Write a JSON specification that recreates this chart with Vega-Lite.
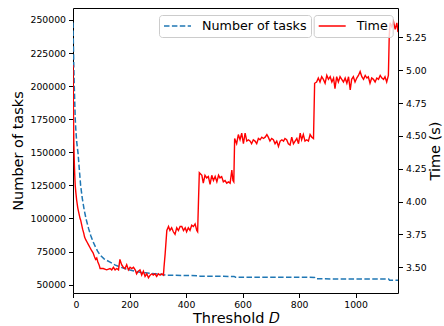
{
  "$schema": "https://vega.github.io/schema/vega-lite/v6.json",
  "width": 325,
  "height": 285,
  "autosize": {"type": "none"},
  "padding": {"left": 73, "top": 8, "right": 46, "bottom": 33},
  "config": {
    "font": "DejaVu Sans",
    "view": {"stroke": "black", "strokeWidth": 1},
    "axis": {"grid": false, "domain": false, "labelFontSize": 9.3, "titleFontSize": 14.5, "titleFontWeight": "normal", "labelColor": "black", "titleColor": "black", "tickColor": "black", "tickSize": 4.5, "tickWidth": 1, "labelPadding": 3, "labelFont": "DejaVu Sans", "titleFont": "DejaVu Sans"}
  },
  "datasets": {
    "tasks": [
      {"D": 0, "tasks": 248000}, {"D": 1, "tasks": 236000}, {"D": 2, "tasks": 224000}, {"D": 3, "tasks": 213000},
      {"D": 4, "tasks": 204000}, {"D": 5, "tasks": 196000}, {"D": 6, "tasks": 189000}, {"D": 8, "tasks": 175000},
      {"D": 10, "tasks": 167000}, {"D": 13, "tasks": 158000}, {"D": 18, "tasks": 149000}, {"D": 22, "tasks": 138000},
      {"D": 27, "tasks": 125000}, {"D": 33, "tasks": 115000}, {"D": 40, "tasks": 106000}, {"D": 47, "tasks": 99000},
      {"D": 55, "tasks": 92500}, {"D": 63, "tasks": 87000}, {"D": 71, "tasks": 82500}, {"D": 79, "tasks": 78700},
      {"D": 87, "tasks": 75300}, {"D": 96, "tasks": 72400}, {"D": 110, "tasks": 69500}, {"D": 131, "tasks": 67000},
      {"D": 150, "tasks": 64800}, {"D": 166, "tasks": 63400}, {"D": 185, "tasks": 62000}, {"D": 202, "tasks": 61000},
      {"D": 220, "tasks": 60100}, {"D": 237, "tasks": 59400}, {"D": 255, "tasks": 59000}, {"D": 273, "tasks": 58600},
      {"D": 300, "tasks": 58000}, {"D": 325, "tasks": 57300}, {"D": 332, "tasks": 57100}, {"D": 445, "tasks": 56800},
      {"D": 450, "tasks": 56400}, {"D": 570, "tasks": 56200}, {"D": 575, "tasks": 55600}, {"D": 855, "tasks": 55500},
      {"D": 860, "tasks": 54400}, {"D": 1117, "tasks": 54200}, {"D": 1120, "tasks": 53400}, {"D": 1150, "tasks": 53300}
    ],
    "time": [
      {"D": 0, "time": 5.04}, {"D": 1, "time": 4.80}, {"D": 2, "time": 4.60}, {"D": 3, "time": 4.45}, {"D": 4, "time": 4.35},
      {"D": 5, "time": 4.27}, {"D": 6, "time": 4.21}, {"D": 7, "time": 4.16}, {"D": 8, "time": 4.12}, {"D": 10, "time": 4.07},
      {"D": 13, "time": 4.01}, {"D": 17, "time": 3.95}, {"D": 21, "time": 3.91}, {"D": 25, "time": 3.87}, {"D": 27, "time": 3.86},
      {"D": 30, "time": 3.83}, {"D": 34, "time": 3.79}, {"D": 38, "time": 3.76}, {"D": 41, "time": 3.73}, {"D": 45, "time": 3.71},
      {"D": 50, "time": 3.69}, {"D": 55, "time": 3.67}, {"D": 60, "time": 3.65}, {"D": 65, "time": 3.63}, {"D": 71, "time": 3.61},
      {"D": 76, "time": 3.58}, {"D": 80, "time": 3.56}, {"D": 84, "time": 3.57}, {"D": 88, "time": 3.54}, {"D": 92, "time": 3.52},
      {"D": 96, "time": 3.49}, {"D": 107, "time": 3.49}, {"D": 119, "time": 3.48}, {"D": 131, "time": 3.49}, {"D": 137, "time": 3.48},
      {"D": 143, "time": 3.50}, {"D": 149, "time": 3.48}, {"D": 155, "time": 3.49}, {"D": 161, "time": 3.48}, {"D": 166, "time": 3.56},
      {"D": 172, "time": 3.52}, {"D": 178, "time": 3.50}, {"D": 184, "time": 3.49}, {"D": 190, "time": 3.52}, {"D": 196, "time": 3.48},
      {"D": 202, "time": 3.50}, {"D": 208, "time": 3.49}, {"D": 214, "time": 3.50}, {"D": 220, "time": 3.48}, {"D": 225, "time": 3.45},
      {"D": 231, "time": 3.47}, {"D": 237, "time": 3.48}, {"D": 243, "time": 3.44}, {"D": 249, "time": 3.47}, {"D": 255, "time": 3.43},
      {"D": 261, "time": 3.45}, {"D": 267, "time": 3.42}, {"D": 273, "time": 3.44}, {"D": 279, "time": 3.45}, {"D": 284, "time": 3.44},
      {"D": 290, "time": 3.45}, {"D": 296, "time": 3.43}, {"D": 302, "time": 3.45}, {"D": 308, "time": 3.44}, {"D": 314, "time": 3.45},
      {"D": 320, "time": 3.44}, {"D": 322, "time": 3.50}, {"D": 326, "time": 3.60}, {"D": 332, "time": 3.78}, {"D": 338, "time": 3.81},
      {"D": 343, "time": 3.78}, {"D": 349, "time": 3.80}, {"D": 355, "time": 3.77}, {"D": 361, "time": 3.75}, {"D": 367, "time": 3.80},
      {"D": 373, "time": 3.78}, {"D": 379, "time": 3.81}, {"D": 385, "time": 3.81}, {"D": 391, "time": 3.78}, {"D": 397, "time": 3.80},
      {"D": 402, "time": 3.77}, {"D": 408, "time": 3.80}, {"D": 414, "time": 3.78}, {"D": 420, "time": 3.82}, {"D": 426, "time": 3.81},
      {"D": 432, "time": 3.83}, {"D": 438, "time": 3.78}, {"D": 441, "time": 3.77}, {"D": 444, "time": 4.00}, {"D": 447, "time": 4.22},
      {"D": 456, "time": 4.20}, {"D": 461, "time": 4.14}, {"D": 467, "time": 4.20}, {"D": 473, "time": 4.18}, {"D": 479, "time": 4.19},
      {"D": 485, "time": 4.13}, {"D": 491, "time": 4.20}, {"D": 497, "time": 4.16}, {"D": 503, "time": 4.19}, {"D": 509, "time": 4.15},
      {"D": 515, "time": 4.20}, {"D": 520, "time": 4.18}, {"D": 526, "time": 4.19}, {"D": 532, "time": 4.15}, {"D": 538, "time": 4.16},
      {"D": 544, "time": 4.14}, {"D": 550, "time": 4.15}, {"D": 556, "time": 4.14}, {"D": 562, "time": 4.24}, {"D": 566, "time": 4.16},
      {"D": 569, "time": 4.15}, {"D": 572, "time": 4.48}, {"D": 579, "time": 4.44}, {"D": 585, "time": 4.51}, {"D": 591, "time": 4.47},
      {"D": 597, "time": 4.52}, {"D": 603, "time": 4.44}, {"D": 609, "time": 4.52}, {"D": 615, "time": 4.46}, {"D": 621, "time": 4.47},
      {"D": 627, "time": 4.46}, {"D": 632, "time": 4.44}, {"D": 638, "time": 4.47}, {"D": 644, "time": 4.46}, {"D": 650, "time": 4.44},
      {"D": 656, "time": 4.48}, {"D": 662, "time": 4.47}, {"D": 668, "time": 4.49}, {"D": 674, "time": 4.48}, {"D": 680, "time": 4.49},
      {"D": 686, "time": 4.51}, {"D": 691, "time": 4.49}, {"D": 697, "time": 4.46}, {"D": 703, "time": 4.48}, {"D": 709, "time": 4.47},
      {"D": 715, "time": 4.44}, {"D": 721, "time": 4.46}, {"D": 727, "time": 4.42}, {"D": 733, "time": 4.46}, {"D": 739, "time": 4.47},
      {"D": 745, "time": 4.46}, {"D": 750, "time": 4.48}, {"D": 756, "time": 4.47}, {"D": 762, "time": 4.44}, {"D": 768, "time": 4.43},
      {"D": 774, "time": 4.49}, {"D": 780, "time": 4.44}, {"D": 786, "time": 4.46}, {"D": 792, "time": 4.48}, {"D": 798, "time": 4.44},
      {"D": 804, "time": 4.52}, {"D": 809, "time": 4.47}, {"D": 815, "time": 4.51}, {"D": 821, "time": 4.46}, {"D": 827, "time": 4.47},
      {"D": 833, "time": 4.46}, {"D": 839, "time": 4.51}, {"D": 845, "time": 4.49}, {"D": 851, "time": 4.48}, {"D": 855, "time": 4.90},
      {"D": 862, "time": 4.91}, {"D": 868, "time": 4.94}, {"D": 874, "time": 4.91}, {"D": 880, "time": 4.95}, {"D": 886, "time": 4.93},
      {"D": 892, "time": 4.90}, {"D": 898, "time": 4.96}, {"D": 904, "time": 4.93}, {"D": 910, "time": 4.95}, {"D": 916, "time": 4.91},
      {"D": 922, "time": 4.94}, {"D": 927, "time": 4.86}, {"D": 933, "time": 4.95}, {"D": 939, "time": 4.91}, {"D": 945, "time": 4.95},
      {"D": 951, "time": 4.93}, {"D": 957, "time": 4.91}, {"D": 963, "time": 4.94}, {"D": 969, "time": 4.90}, {"D": 975, "time": 4.95},
      {"D": 981, "time": 4.85}, {"D": 986, "time": 4.93}, {"D": 992, "time": 4.95}, {"D": 998, "time": 4.91}, {"D": 1004, "time": 4.94},
      {"D": 1010, "time": 4.96}, {"D": 1016, "time": 4.99}, {"D": 1022, "time": 4.95}, {"D": 1028, "time": 4.93}, {"D": 1034, "time": 4.96},
      {"D": 1040, "time": 4.94}, {"D": 1045, "time": 4.95}, {"D": 1051, "time": 4.90}, {"D": 1057, "time": 4.94}, {"D": 1063, "time": 4.93},
      {"D": 1069, "time": 4.91}, {"D": 1075, "time": 4.94}, {"D": 1081, "time": 4.93}, {"D": 1087, "time": 4.96}, {"D": 1093, "time": 4.94},
      {"D": 1099, "time": 4.93}, {"D": 1104, "time": 4.95}, {"D": 1110, "time": 4.91}, {"D": 1116, "time": 4.96}, {"D": 1119, "time": 5.26},
      {"D": 1122, "time": 5.36}, {"D": 1128, "time": 5.33}, {"D": 1134, "time": 5.37}, {"D": 1140, "time": 5.31}, {"D": 1146, "time": 5.36},
      {"D": 1150, "time": 5.29}
    ]
  },
  "layer": [
    {
      "data": {"name": "tasks"},
      "mark": {"type": "line", "strokeDash": [5.5, 2.4], "strokeWidth": 1.5, "clip": true},
      "encoding": {
        "x": {"field": "D", "type": "quantitative", "scale": {"domain": [0, 1150], "nice": false},
              "axis": {"values": [0, 200, 400, 600, 800, 1000], "format": "d", "title": "Threshold 𝐷", "titlePadding": 2}},
        "y": {"field": "tasks", "type": "quantitative", "scale": {"domain": [43700, 259000], "nice": false, "zero": false},
              "axis": {"values": [50000, 75000, 100000, 125000, 150000, 175000, 200000, 225000, 250000], "format": "d", "title": "Number of tasks", "titlePadding": 5}},
        "color": {"datum": "Number of tasks", "type": "nominal", "scale": {"range": ["#1f77b4"]},
                  "legend": {"orient": "none", "legendX": 86, "legendY": 7, "title": null, "symbolType": "stroke", "symbolSize": 729, "clipHeight": 14,
                             "symbolStrokeWidth": 1.5, "symbolDash": [5.5, 2.4], "labelFontSize": 12.7, "labelFont": "DejaVu Sans", "labelColor": "black", "labelOffset": 10,
                             "padding": 4, "strokeColor": "#cccccc", "fillColor": "rgba(255,255,255,0.8)", "cornerRadius": 3}}
      }
    },
    {
      "data": {"name": "time"},
      "mark": {"type": "line", "strokeWidth": 1.4, "clip": true},
      "encoding": {
        "x": {"field": "D", "type": "quantitative"},
        "y": {"field": "time", "type": "quantitative", "scale": {"domain": [3.304, 5.473], "nice": false, "zero": false},
              "axis": {"orient": "right", "values": [3.5, 3.75, 4.0, 4.25, 4.5, 4.75, 5.0, 5.25], "format": ".2f", "title": "Time (s)",
                       "titleAngle": 270, "titleBaseline": "top", "titlePadding": 2}},
        "color": {"datum": "Time", "type": "nominal", "scale": {"range": ["red"]},
                  "legend": {"orient": "none", "legendX": 240.7, "legendY": 7, "title": null, "symbolType": "stroke", "symbolSize": 729, "clipHeight": 14,
                             "symbolStrokeWidth": 1.5, "labelFontSize": 12.7, "labelFont": "DejaVu Sans", "labelColor": "black", "labelOffset": 10,
                             "padding": 4, "strokeColor": "#cccccc", "fillColor": "rgba(255,255,255,0.8)", "cornerRadius": 3}}
      }
    }
  ],
  "resolve": {"scale": {"y": "independent", "color": "independent"}, "legend": {"color": "independent"}}
}
